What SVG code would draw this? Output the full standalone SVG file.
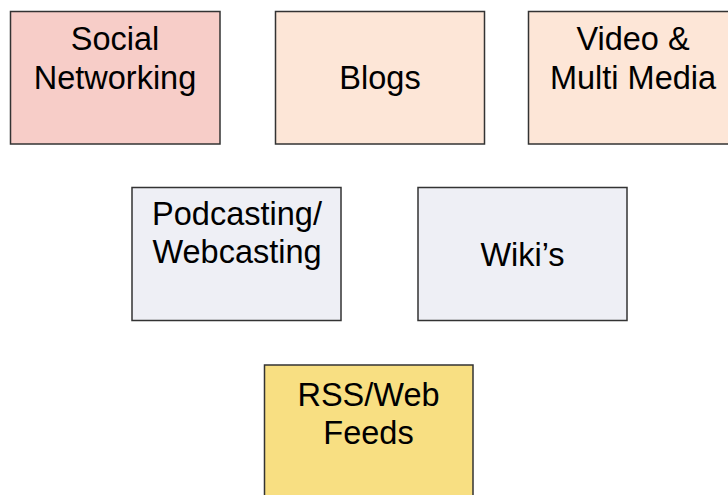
<svg xmlns="http://www.w3.org/2000/svg" width="728" height="495" viewBox="0 0 728 495">
<style>
rect.box{stroke:#333333;stroke-width:1.5}
text{font-family:"Liberation Sans",Arial,sans-serif;font-size:32.5px;fill:#000;text-anchor:middle}
.pink{fill:#f7cdc8}
.peach{fill:#fde6d7}
.lav{fill:#eeeff5}
.yellow{fill:#f8df82}
</style>
<rect width="728" height="495" fill="#ffffff"/>
<g id="connectors"></g>
<g id="social">
<rect class="box pink" x="10.5" y="11.5" width="209.5" height="132.5"/>
<text x="115" y="50">Social</text>
<text x="115" y="88.5">Networking</text>
</g>
<g id="blogs">
<rect class="box peach" x="275.5" y="11.5" width="209" height="132.5"/>
<text x="380" y="88.5">Blogs</text>
</g>
<g id="video">
<rect class="box peach" x="528.5" y="11.5" width="209" height="132.5"/>
<text x="633" y="50">Video &amp;</text>
<text x="633" y="88.5">Multi Media</text>
</g>
<g id="podcasting">
<rect class="box lav" x="132" y="187.5" width="209" height="133"/>
<text x="237" y="225">Podcasting/</text>
<text x="237" y="263">Webcasting</text>
</g>
<g id="wiki">
<rect class="box lav" x="418" y="187.5" width="209" height="133"/>
<text x="522.5" y="265.5">Wiki’s</text>
</g>
<g id="rss">
<rect class="box yellow" x="264.5" y="365" width="208.5" height="140"/>
<text x="368.5" y="405.5">RSS/Web</text>
<text x="368.5" y="444">Feeds</text>
</g>
</svg>
